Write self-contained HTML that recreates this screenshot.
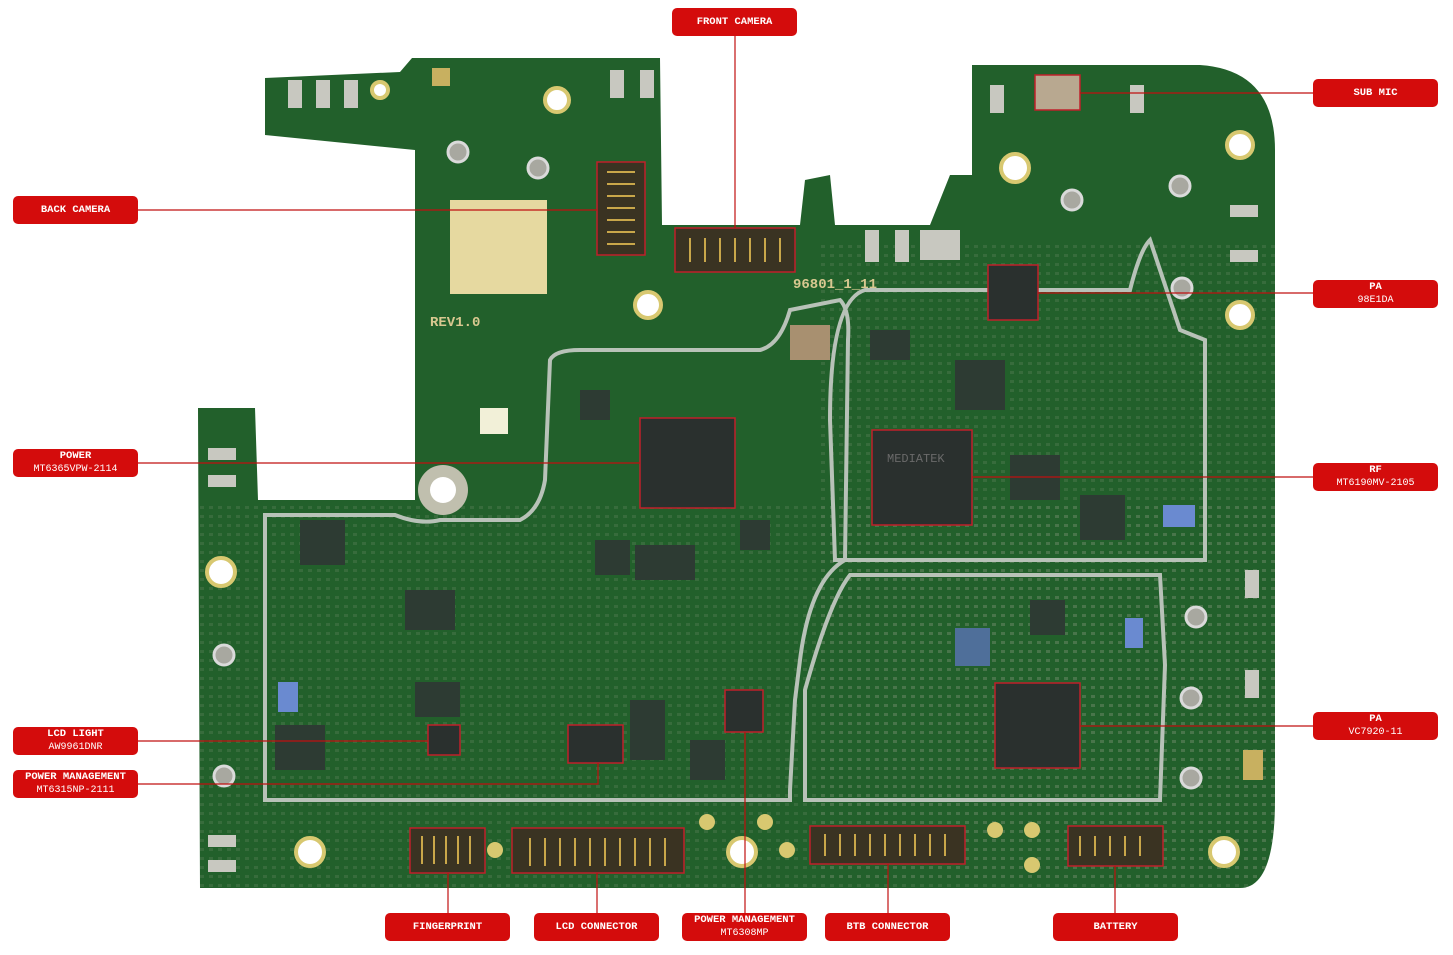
<!DOCTYPE html>
<html><head><meta charset="utf-8"><style>
html,body{margin:0;padding:0;background:#fff;}
body{width:1453px;height:955px;overflow:hidden;position:relative;}
.lb{position:absolute;width:125px;height:28px;background:#d40c0c;border-radius:5px;color:#fff;font-family:"Liberation Mono",monospace;font-size:10.5px;font-weight:bold;text-align:center;display:flex;flex-direction:column;justify-content:center;line-height:13px;}
.lb span{font-weight:normal;font-size:10px;}
</style></head><body>
<svg width="1453" height="955" style="position:absolute;left:0;top:0">
<defs><pattern id="dots" width="9" height="9" patternUnits="userSpaceOnUse"><rect x="2" y="2" width="4" height="3" fill="#8a9a80" opacity="0.45"/></pattern>
<clipPath id="bc"><path id="bp" d="M265,78 L400,72 L412,58 L660,58 L662,225 L800,225 L805,180 L830,175 L835,225 L930,225 L950,175 L972,175 L972,65 L1200,65 Q1275,70 1275,150 L1275,800 Q1275,888 1240,888 L200,888 L198,408 L255,408 L258,500 L415,500 L415,150 L265,135 Z"/></clipPath></defs>
<path d="M265,78 L400,72 L412,58 L660,58 L662,225 L800,225 L805,180 L830,175 L835,225 L930,225 L950,175 L972,175 L972,65 L1200,65 Q1275,70 1275,150 L1275,800 Q1275,888 1240,888 L200,888 L198,408 L255,408 L258,500 L415,500 L415,150 L265,135 Z" fill="#22602b"/>
<g clip-path="url(#bc)">
<rect x="198" y="500" width="1077" height="388" fill="url(#dots)" opacity="0.45"/>
<rect x="820" y="240" width="455" height="640" fill="url(#dots)" opacity="0.45"/>
</g>
<g fill="none" stroke="#b8c2b8" stroke-width="4">
<path d="M265,515 L395,515 Q420,525 440,520 L520,520 Q540,510 545,480 L550,360 Q555,350 580,350 L760,350 Q780,345 790,310 L840,300 Q850,310 848,340 L845,560 Q810,580 800,660 L795,700 L790,790 L790,800 L265,800 Z"/>
<path d="M865,290 L1130,290 Q1140,250 1150,240 Q1170,300 1180,330 L1205,340 L1205,560 L835,560 L830,420 Q830,300 865,290 Z"/>
<path d="M850,575 L1160,575 L1165,665 L1160,800 L805,800 L805,690 Q830,600 850,575 Z"/>
</g>
<rect x="450" y="200" width="97" height="94" fill="#e6d9a0"/>
<g fill="#2a302e" stroke="#c0202a" stroke-width="1.5">
<rect x="640" y="418" width="95" height="90"/>
<rect x="872" y="430" width="100" height="95"/>
<rect x="988" y="265" width="50" height="55"/>
<rect x="995" y="683" width="85" height="85"/>
<rect x="428" y="725" width="32" height="30"/>
<rect x="568" y="725" width="55" height="38"/>
<rect x="725" y="690" width="38" height="42"/>
</g>
<g fill="#2d3b33">
<rect x="300" y="520" width="45" height="45"/><rect x="405" y="590" width="50" height="40"/><rect x="415" y="682" width="45" height="35"/>
<rect x="275" y="725" width="50" height="45"/><rect x="955" y="360" width="50" height="50"/><rect x="1080" y="495" width="45" height="45"/>
<rect x="1010" y="455" width="50" height="45"/><rect x="1030" y="600" width="35" height="35"/><rect x="595" y="540" width="35" height="35"/>
<rect x="630" y="700" width="35" height="60"/><rect x="690" y="740" width="35" height="40"/><rect x="870" y="330" width="40" height="30"/>
<rect x="635" y="545" width="60" height="35"/><rect x="580" y="390" width="30" height="30"/><rect x="740" y="520" width="30" height="30"/>
</g>
<rect x="955" y="628" width="35" height="38" fill="#4f6f9a"/>
<rect x="1163" y="505" width="32" height="22" fill="#6a8ad0"/>
<rect x="278" y="682" width="20" height="30" fill="#6a8ad0"/>
<rect x="1125" y="618" width="18" height="30" fill="#6a8ad0"/>
<g fill="#3a3322" stroke="#c0202a" stroke-width="1.5">
<rect x="597" y="162" width="48" height="93"/>
<rect x="675" y="228" width="120" height="44"/>
<rect x="410" y="828" width="75" height="45"/>
<rect x="512" y="828" width="172" height="45"/>
<rect x="810" y="826" width="155" height="38"/>
<rect x="1068" y="826" width="95" height="40"/>
</g>
<g stroke="#c9a74a" stroke-width="2">
<path d="M530,838 V866 M545,838 V866 M560,838 V866 M575,838 V866 M590,838 V866 M605,838 V866 M620,838 V866 M635,838 V866 M650,838 V866 M665,838 V866"/>
<path d="M825,834 V856 M840,834 V856 M855,834 V856 M870,834 V856 M885,834 V856 M900,834 V856 M915,834 V856 M930,834 V856 M945,834 V856"/>
<path d="M690,238 V262 M705,238 V262 M720,238 V262 M735,238 V262 M750,238 V262 M765,238 V262 M780,238 V262"/>
<path d="M607,172 H635 M607,184 H635 M607,196 H635 M607,208 H635 M607,220 H635 M607,232 H635 M607,244 H635"/>
<path d="M1080,836 V856 M1095,836 V856 M1110,836 V856 M1125,836 V856 M1140,836 V856"/>
<path d="M422,836 V864 M434,836 V864 M446,836 V864 M458,836 V864 M470,836 V864"/>
</g>
<rect x="1035" y="75" width="45" height="35" fill="#b8a890" stroke="#c0202a" stroke-width="1.5"/>
<rect x="790" y="325" width="40" height="35" fill="#a89070"/>
<g fill="#fff" stroke="#d8c870" stroke-width="4">
<circle cx="557" cy="100" r="12"/><circle cx="648" cy="305" r="13"/><circle cx="1015" cy="168" r="14"/>
<circle cx="1240" cy="145" r="13"/><circle cx="1240" cy="315" r="13"/><circle cx="221" cy="572" r="14"/>
<circle cx="310" cy="852" r="14"/><circle cx="742" cy="852" r="14"/><circle cx="1224" cy="852" r="14"/>
<circle cx="380" cy="90" r="8"/>
</g>
<circle cx="443" cy="490" r="25" fill="#c0bfae"/><circle cx="443" cy="490" r="13" fill="#fff"/>
<g fill="#d8c870"><circle cx="707" cy="822" r="8"/><circle cx="765" cy="822" r="8"/><circle cx="787" cy="850" r="8"/><circle cx="995" cy="830" r="8"/><circle cx="1032" cy="865" r="8"/><circle cx="1032" cy="830" r="8"/><circle cx="495" cy="850" r="8"/></g>
<g fill="#c8c8c0"><rect x="288" y="80" width="14" height="28"/><rect x="316" y="80" width="14" height="28"/><rect x="344" y="80" width="14" height="28"/><rect x="610" y="70" width="14" height="28"/><rect x="640" y="70" width="14" height="28"/><rect x="990" y="85" width="14" height="28"/><rect x="1130" y="85" width="14" height="28"/><rect x="1230" y="205" width="28" height="12"/><rect x="1230" y="250" width="28" height="12"/><rect x="208" y="448" width="28" height="12"/><rect x="208" y="475" width="28" height="12"/><rect x="1245" y="570" width="14" height="28"/><rect x="1245" y="670" width="14" height="28"/><rect x="208" y="835" width="28" height="12"/><rect x="208" y="860" width="28" height="12"/><rect x="865" y="230" width="14" height="32"/><rect x="895" y="230" width="14" height="32"/><rect x="920" y="230" width="40" height="30"/></g>
<g fill="#a8a8a0" stroke="#dadada" stroke-width="3"><circle cx="458" cy="152" r="10"/><circle cx="538" cy="168" r="10"/><circle cx="1072" cy="200" r="10"/><circle cx="1180" cy="186" r="10"/><circle cx="1182" cy="288" r="10"/><circle cx="224" cy="655" r="10"/><circle cx="224" cy="776" r="10"/><circle cx="1196" cy="617" r="10"/><circle cx="1191" cy="698" r="10"/><circle cx="1191" cy="778" r="10"/></g>
<rect x="432" y="68" width="18" height="18" fill="#c8b060"/>
<rect x="480" y="408" width="28" height="26" fill="#f2f0d8"/>
<rect x="1243" y="750" width="20" height="30" fill="#c8b060"/>
<text x="430" y="326" font-family="Liberation Mono,monospace" font-size="14" font-weight="bold" fill="#d8c890">REV1.0</text>
<text x="793" y="288" font-family="Liberation Mono,monospace" font-size="14" font-weight="bold" fill="#d8c890">96801_1_11</text>
<text x="887" y="462" font-family="Liberation Mono,monospace" font-size="12" fill="#6a6a6a">MEDIATEK</text>
<g stroke="#c01010" stroke-width="1.2" fill="none">
<path d="M735,36 V228"/><path d="M1313,93 H1080"/><path d="M138,210 H597"/><path d="M1313,293 H1038"/>
<path d="M138,463 H640"/><path d="M1313,477 H972"/><path d="M1313,726 H1080"/><path d="M138,741 H428"/>
<path d="M138,784 H598 V763"/><path d="M448,913 V873"/><path d="M597,913 V873"/><path d="M745,913 V732"/>
<path d="M888,913 V864"/><path d="M1115,913 V866"/>
</g>
</svg>
<div class="lb" style="left:672px;top:8px">FRONT CAMERA</div>
<div class="lb" style="left:1313px;top:79px">SUB MIC</div>
<div class="lb" style="left:13px;top:196px">BACK CAMERA</div>
<div class="lb" style="left:1313px;top:280px">PA<span>98E1DA</span></div>
<div class="lb" style="left:13px;top:449px">POWER<span>MT6365VPW-2114</span></div>
<div class="lb" style="left:1313px;top:463px">RF<span>MT6190MV-2105</span></div>
<div class="lb" style="left:1313px;top:712px">PA<span>VC7920-11</span></div>
<div class="lb" style="left:13px;top:727px">LCD LIGHT<span>AW9961DNR</span></div>
<div class="lb" style="left:13px;top:770px">POWER MANAGEMENT<span>MT6315NP-2111</span></div>
<div class="lb" style="left:385px;top:913px">FINGERPRINT</div>
<div class="lb" style="left:534px;top:913px">LCD CONNECTOR</div>
<div class="lb" style="left:682px;top:913px">POWER MANAGEMENT<span>MT6308MP</span></div>
<div class="lb" style="left:825px;top:913px">BTB CONNECTOR</div>
<div class="lb" style="left:1053px;top:913px">BATTERY</div>
</body></html>
